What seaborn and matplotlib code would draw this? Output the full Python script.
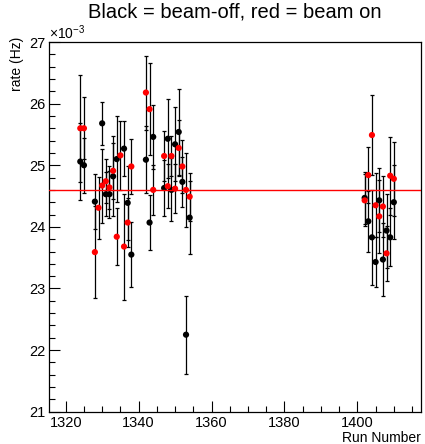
import matplotlib
matplotlib.use("Agg")
import matplotlib.pyplot as plt
from matplotlib.ticker import MultipleLocator
import seaborn as sns
import pandas as pd

# ---- data (rates in units of 1e-3 Hz) ----
runs_off = [1324, 1325, 1328, 1330, 1331, 1332, 1333, 1334, 1336, 1337, 1338,
            1342, 1343, 1344, 1347, 1348, 1349, 1350, 1351, 1352, 1353, 1354,
            1402, 1403, 1404, 1405, 1406, 1407, 1408, 1409, 1410]
rate_off = [25.06, 25.00, 24.41, 25.68, 24.53, 24.53, 24.82, 25.10, 25.27, 24.39, 23.55,
            25.09, 24.07, 25.46, 24.63, 25.43, 24.60, 25.34, 25.54, 24.73, 22.25, 24.15,
            24.47, 24.09, 23.83, 23.43, 24.43, 23.47, 23.94, 23.83, 24.40]
err_off = [0.62, 0.45, 0.45, 0.35, 0.36, 0.38, 0.65, 0.70, 0.45, 0.60, 0.53,
           0.54, 0.45, 0.52, 0.46, 0.64, 0.51, 0.60, 0.70, 0.40, 0.63, 0.59,
           0.42, 0.50, 0.77, 0.40, 0.52, 0.60, 0.60, 0.47, 0.60]

runs_on = [1324, 1325, 1328, 1329, 1330, 1331, 1332, 1333, 1334, 1335, 1336, 1337, 1338,
           1342, 1343, 1344, 1347, 1348, 1349, 1350, 1351, 1352, 1353, 1354,
           1402, 1403, 1404, 1405, 1406, 1407, 1408, 1409, 1410]
rate_on = [25.60, 25.60, 23.59, 24.31, 24.67, 24.74, 24.64, 24.91, 23.84, 25.16, 23.68, 24.07, 24.98,
           26.18, 25.91, 24.60, 25.15, 24.66, 25.15, 24.62, 25.28, 24.98, 24.60, 24.49,
           24.43, 24.84, 25.49, 24.35, 24.17, 24.33, 23.57, 24.83, 24.78]
err_on = [0.87, 0.50, 0.75, 0.50, 0.60, 0.36, 0.35, 0.45, 0.46, 0.56, 0.86, 0.40, 0.44,
          0.60, 0.75, 0.40, 0.40, 0.36, 0.32, 0.40, 0.46, 0.43, 0.60, 0.39,
          0.42, 0.45, 0.65, 0.52, 0.59, 0.50, 0.45, 0.63, 0.60]

mean_rate = 24.6
title = "Black = beam-off, red = beam on"
xlabel = "Run Number"
ylabel = "rate (Hz)"

df = pd.concat([
    pd.DataFrame({"run": runs_off, "rate": rate_off, "err": err_off, "beam": "off"}),
    pd.DataFrame({"run": runs_on, "rate": rate_on, "err": err_on, "beam": "on"}),
], ignore_index=True)

sns.set_style("ticks")
plt.rcParams["font.family"] = ["Liberation Sans", "DejaVu Sans"]
plt.rcParams["mathtext.fontset"] = "custom"
plt.rcParams["mathtext.rm"] = "Liberation Sans"
plt.rcParams["mathtext.it"] = "Liberation Sans"
plt.rcParams["text.color"] = "black"
plt.rcParams["axes.labelcolor"] = "black"
plt.rcParams["xtick.color"] = "black"
plt.rcParams["ytick.color"] = "black"
plt.rcParams["xtick.labelcolor"] = "black"
plt.rcParams["ytick.labelcolor"] = "black"

fig = plt.figure(figsize=(4.25, 4.44), dpi=100)
ax = fig.add_axes([0.116, 0.0727, 0.875, 0.8327])

palette = {"off": "black", "on": "red"}
for beam in ["off", "on"]:
    sub = df[df["beam"] == beam]
    ax.errorbar(sub["run"], sub["rate"], yerr=sub["err"], fmt="none",
                ecolor="black", elinewidth=0.9, capsize=1.2, capthick=0.9, zorder=2)
sns.scatterplot(data=df, x="run", y="rate", hue="beam", palette=palette,
                hue_order=["off", "on"], s=20, linewidth=0, legend=False,
                ax=ax, zorder=3)

ax.axhline(mean_rate, color="red", lw=1.0, zorder=4)

ax.set_xlim(1315.5, 1417.5)
ax.set_ylim(21, 27)
ax.xaxis.set_major_locator(MultipleLocator(20))
ax.xaxis.set_minor_locator(MultipleLocator(5))
ax.yaxis.set_major_locator(MultipleLocator(1))
ax.yaxis.set_minor_locator(MultipleLocator(0.2))
ax.tick_params(which="both", direction="in", top=False, right=False,
               labelsize=10.5, width=0.8, color="black", labelcolor="black", pad=3)
ax.tick_params(which="major", length=8)
ax.tick_params(which="minor", length=4)
for s in ax.spines.values():
    s.set_linewidth(0.9)
    s.set_color("black")

ax.set_xlabel(xlabel, loc="right", fontsize=10, labelpad=1, color="black")
ax.set_ylabel(ylabel, loc="top", fontsize=10, color="black")
ax.yaxis.set_label_coords(-0.068, 1.015)
ax.set_title(title, fontsize=14.5, pad=18, color="black")
ax.text(0.0, 1.0, r"$\times10^{-3}$", transform=ax.transAxes,
        ha="left", va="bottom", fontsize=10, color="black")

fig.savefig("out.png", dpi=100)
